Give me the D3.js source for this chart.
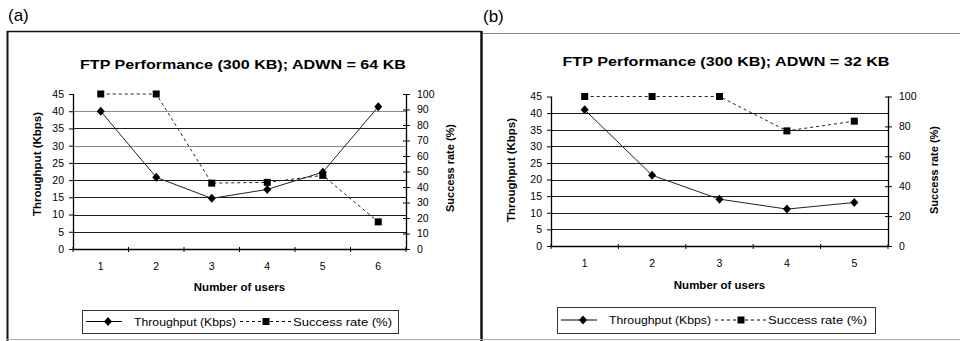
<!DOCTYPE html>
<html>
<head>
<meta charset="utf-8">
<script src="https://cdn.jsdelivr.net/npm/d3@7"></script>
<style>
  html, body { margin: 0; padding: 0; background: #fff; }
  svg { display: block; font-family: "Liberation Sans", Arial, sans-serif; }
</style>
</head>
<body>
<svg id="fig" width="960" height="341"></svg>
<script>
// ---- data: panel (a), ADWN = 64 KB ----
const usersA = ["1", "2", "3", "4", "5", "6"];
const throughputA = [40, 20.8, 14.7, 17.3, 22.3, 41.3];
const successA = [100, 100, 42.5, 43, 47.5, 17.5];
const leftTicksA = [0, 5, 10, 15, 20, 25, 30, 35, 40, 45];
const rightTicksA = [0, 10, 20, 30, 40, 50, 60, 70, 80, 90, 100];

// ---- data: panel (b), ADWN = 32 KB ----
const usersB = ["1", "2", "3", "4", "5"];
const throughputB = [41, 21.3, 14.1, 11.1, 13.1];
const successB = [100, 100, 100, 77, 83.5];
const leftTicksB = [0, 5, 10, 15, 20, 25, 30, 35, 40, 45];
const rightTicksB = [0, 20, 40, 60, 80, 100];

const titleA = "FTP Performance (300 KB); ADWN = 64 KB";
const titleB = "FTP Performance (300 KB); ADWN = 32 KB";
const seriesNames = ["Throughput (Kbps)", "Success rate (%)"];

const svg = d3.select("#fig");

// outer frames
svg.append("line").attr("x1", 7).attr("x2", 481).attr("y1", 31.5).attr("y2", 31.5)
  .attr("stroke", "#111").attr("stroke-width", 1.5);
svg.append("line").attr("x1", 7.5).attr("x2", 7.5).attr("y1", 31).attr("y2", 341)
  .attr("stroke", "#111").attr("stroke-width", 2);
svg.append("line").attr("x1", 481).attr("x2", 960).attr("y1", 33.5).attr("y2", 33.5)
  .attr("stroke", "#888").attr("stroke-width", 1);
svg.append("line").attr("x1", 481.5).attr("x2", 481.5).attr("y1", 31).attr("y2", 341)
  .attr("stroke", "#111").attr("stroke-width", 2.5);
svg.append("line").attr("x1", 7).attr("x2", 960).attr("y1", 339.5).attr("y2", 339.5)
  .attr("stroke", "#aaa").attr("stroke-width", 1);

svg.append("text").attr("x", 8).attr("y", 21).attr("font-size", 17).text("(a)");
svg.append("text").attr("x", 483).attr("y", 22).attr("font-size", 17).text("(b)");

function diamond(g, x, y) {
  g.append("path").attr("d", `M${x},${y - 4.5}L${x + 4},${y}L${x},${y + 4.5}L${x - 4},${y}Z`)
    .attr("fill", "#000");
}
function square(g, x, y) {
  g.append("rect").attr("x", x - 3.5).attr("y", y - 3.5).attr("width", 7).attr("height", 7)
    .attr("fill", "#000");
}

function panel(cfg) {
  const g = svg.append("g");
  const x = d3.scaleBand().domain(cfg.users).range([cfg.x0, cfg.x1]);
  const yL = d3.scaleLinear().domain([0, 45]).range([cfg.yb, cfg.yt]);
  const yR = d3.scaleLinear().domain([0, 100]).range([cfg.yb, cfg.yt]);

  // horizontal gridlines
  g.selectAll(".grid").data(cfg.leftTicks.filter(v => v > 0 && v < 45)).enter()
    .append("line")
    .attr("x1", cfg.x0).attr("x2", cfg.x1)
    .attr("y1", d => Math.round(yL(d)) + 0.5).attr("y2", d => Math.round(yL(d)) + 0.5)
    .attr("stroke", d => cfg.gridColor(d)).attr("stroke-width", 1.2);

  // left axis
  const axL = g.append("g").attr("transform", `translate(${cfg.x0},0)`)
    .call(d3.axisLeft(yL).tickValues(cfg.leftTicks).tickSize(4).tickPadding(5));
  // right axis
  const axR = g.append("g").attr("transform", `translate(${cfg.x1},0)`)
    .call(d3.axisRight(yR).tickValues(cfg.rightTicks).tickSize(4).tickPadding(7));
  axR.selectAll(".tick line").attr("x1", -3);
  // bottom axis (ticks between categories)
  const axB = g.append("g").attr("transform", `translate(0,${cfg.yb})`)
    .call(d3.axisBottom(x).tickSize(0).tickPadding(14));
  const bounds = d3.range(cfg.users.length + 1).map(i => cfg.x0 + i * x.step());
  g.selectAll(".xt").data(bounds).enter().append("line")
    .attr("x1", d => d).attr("x2", d => d)
    .attr("y1", cfg.yb - 2).attr("y2", cfg.yb + 3)
    .attr("stroke", "#000");

  [axL, axR, axB].forEach(a => {
    a.selectAll(".domain").attr("stroke", "#000").attr("stroke-width", 1.3);
    a.selectAll(".tick line").attr("stroke", "#000");
    a.selectAll("text").attr("font-size", 10.5).attr("fill", "#000")
      .attr("font-family", "'Liberation Sans', Arial, sans-serif");
  });
  axL.select(".domain").attr("d", `M0.5,${cfg.yt}V${cfg.yb}`);
  axR.select(".domain").attr("d", `M0.5,${cfg.yt}V${cfg.yb}`);
  axB.select(".domain").attr("d", `M${cfg.x0},0.5H${cfg.x1}`);

  // series: success rate (dashed, squares, right axis)
  const cx = d => x(d) + x.bandwidth() / 2;
  const lineS = d3.line().x((d, i) => cx(cfg.users[i])).y(d => yR(d));
  g.append("path").attr("d", lineS(cfg.success)).attr("fill", "none")
    .attr("stroke", "#222").attr("stroke-width", 1).attr("stroke-dasharray", "3,3");
  // series: throughput (solid, diamonds, left axis)
  const lineT = d3.line().x((d, i) => cx(cfg.users[i])).y(d => yL(d));
  g.append("path").attr("d", lineT(cfg.throughput)).attr("fill", "none")
    .attr("stroke", "#222").attr("stroke-width", 1);
  cfg.success.forEach((v, i) => square(g, cx(cfg.users[i]), yR(v)));
  cfg.throughput.forEach((v, i) => diamond(g, cx(cfg.users[i]), yL(v)));

  // titles
  g.append("text").attr("x", cfg.titleX).attr("y", cfg.titleY).attr("text-anchor", "middle")
    .attr("font-size", 13).attr("font-weight", "bold")
    .attr("textLength", cfg.titleW).attr("lengthAdjust", "spacingAndGlyphs").text(cfg.title);
  g.append("text").attr("x", (cfg.x0 + cfg.x1) / 2).attr("y", cfg.xTitleY).attr("text-anchor", "middle")
    .attr("font-size", 11.5).attr("font-weight", "bold").text("Number of users");
  g.append("text").attr("transform", `translate(${cfg.yLTitleX},${cfg.yLTitleY}) rotate(-90)`)
    .attr("text-anchor", "middle").attr("font-size", 11.5).attr("font-weight", "bold")
    .text("Throughput (Kbps)");
  g.append("text").attr("transform", `translate(${cfg.yRTitleX},${cfg.yRTitleY}) rotate(-90)`)
    .attr("text-anchor", "middle").attr("font-size", 11).attr("font-weight", "bold")
    .text("Success rate (%)");

  // legend
  const L = cfg.legend;
  g.append("rect").attr("x", L.x + 0.5).attr("y", L.y + 0.5).attr("width", L.w).attr("height", L.h)
    .attr("fill", "#fff").attr("stroke", "#333").attr("stroke-width", 1);
  const ly = L.y + L.h / 2;
  g.append("line").attr("x1", L.x + 4).attr("x2", L.x + 40).attr("y1", ly).attr("y2", ly)
    .attr("stroke", "#000");
  diamond(g, L.x + 26, ly);
  g.append("text").attr("x", L.x + 52).attr("y", ly + 4).attr("font-size", 11)
    .attr("textLength", 102).attr("lengthAdjust", "spacingAndGlyphs").text(seriesNames[0]);
  g.append("line").attr("x1", L.x + 158).attr("x2", L.x + 209).attr("y1", ly).attr("y2", ly)
    .attr("stroke", "#000").attr("stroke-dasharray", "3,3");
  square(g, L.x + 184, ly);
  g.append("text").attr("x", L.x + 211).attr("y", ly + 4).attr("font-size", 11)
    .attr("textLength", 99).attr("lengthAdjust", "spacingAndGlyphs").text(seriesNames[1]);
}

panel({
  users: usersA, throughput: throughputA, success: successA,
  leftTicks: leftTicksA, rightTicks: rightTicksA,
  x0: 73, x1: 406, yt: 94, yb: 249,
  gridColor: d => (d === 40 || d === 30) ? "#8a8a8a" : "#1a1a1a",
  title: titleA, titleX: 243, titleY: 69, titleW: 326,
  xTitleY: 291, yLTitleX: 41, yLTitleY: 164, yRTitleX: 454, yRTitleY: 168,
  legend: { x: 82, y: 310, w: 316, h: 23 }
});

panel({
  users: usersB, throughput: throughputB, success: successB,
  leftTicks: leftTicksB, rightTicks: rightTicksB,
  x0: 551, x1: 888, yt: 96.5, yb: 246,
  gridColor: d => "#1a1a1a",
  title: titleB, titleX: 726, titleY: 66, titleW: 327,
  xTitleY: 289, yLTitleX: 515, yLTitleY: 170, yRTitleX: 938, yRTitleY: 170,
  legend: { x: 557, y: 307, w: 318, h: 26 }
});
</script>
</body>
</html>
